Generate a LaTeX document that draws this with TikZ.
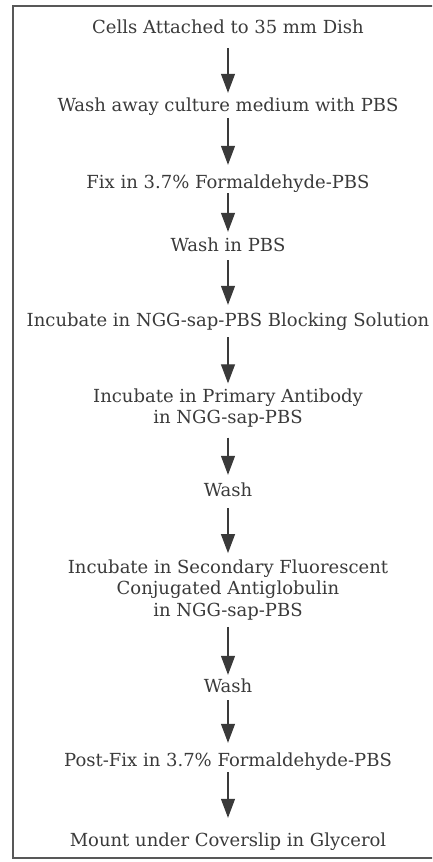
\documentclass[tikz,border=0pt]{standalone}
\usepackage{fontspec}
\setmainfont{DejaVu Serif}
\usetikzlibrary{arrows.meta}
\definecolor{ink}{HTML}{3A3A3A}
\tikzset{
  stepbox/.style={inner sep=0pt, align=center, text=ink,
    font=\fontsize{18}{21.5}\selectfont},
  oneline/.style={stepbox, text height=13.5pt, text depth=4.5pt},
  arr/.style={draw=ink, line width=1.2pt,
    -{Triangle[width=14pt,length=19pt]}},
  frame/.style={draw=ink!85, line width=1.6pt}
}
\begin{document}
\begin{tikzpicture}[x=1pt,y=-1pt]
\useasboundingbox (0,0) rectangle (432,862);
\clip (0,0) rectangle (432,862);
\draw[frame] (440,6) -- (13,6) -- (13,858) -- (440,858);
\node[oneline] (n1) at (228,29) {Cells Attached to 35 mm Dish};
\node[oneline] (n2) at (228,107) {Wash away culture medium with PBS};
\node[oneline] (n3) at (228,184) {Fix in 3.7\% Formaldehyde-PBS};
\node[oneline] (n4) at (228,247) {Wash in PBS};
\node[oneline] (n5) at (228,322) {Incubate in NGG-sap-PBS Blocking Solution};
\node[stepbox] (n6) at (228,408) {Incubate in Primary Antibody\\in NGG-sap-PBS};
\node[oneline] (n7) at (228,492) {Wash};
\node[stepbox] (n8) at (228,590) {Incubate in Secondary Fluorescent\\Conjugated Antiglobulin\\in NGG-sap-PBS};
\node[oneline] (n9) at (228,688) {Wash};
\node[oneline] (n10) at (228,762) {Post-Fix in 3.7\% Formaldehyde-PBS};
\node[oneline] (n11) at (228,842) {Mount under Coverslip in Glycerol};
\draw[arr, shorten <=10pt, shorten >=5pt] (n1) -- (n2);
\draw[arr, shorten <=2pt, shorten >=10pt] (n2) -- (n3);
\draw[arr, shorten <=0pt, shorten >=6pt] (n3) -- (n4);
\draw[arr, shorten <=4pt, shorten >=8pt] (n4) -- (n5);
\draw[arr, shorten <=6pt, shorten >=5pt] (n5) -- (n6);
\draw[arr, shorten <=10pt, shorten >=8pt] (n6) -- (n7);
\draw[arr, shorten <=7pt, shorten >=6.5pt] (n7) -- (n8);
\draw[arr, shorten <=6.5pt, shorten >=4pt] (n8) -- (n9);
\draw[arr, shorten <=3pt, shorten >=10pt] (n9) -- (n10);
\draw[arr, shorten <=1pt, shorten >=15pt] (n10) -- (n11);
\end{tikzpicture}
\end{document}
